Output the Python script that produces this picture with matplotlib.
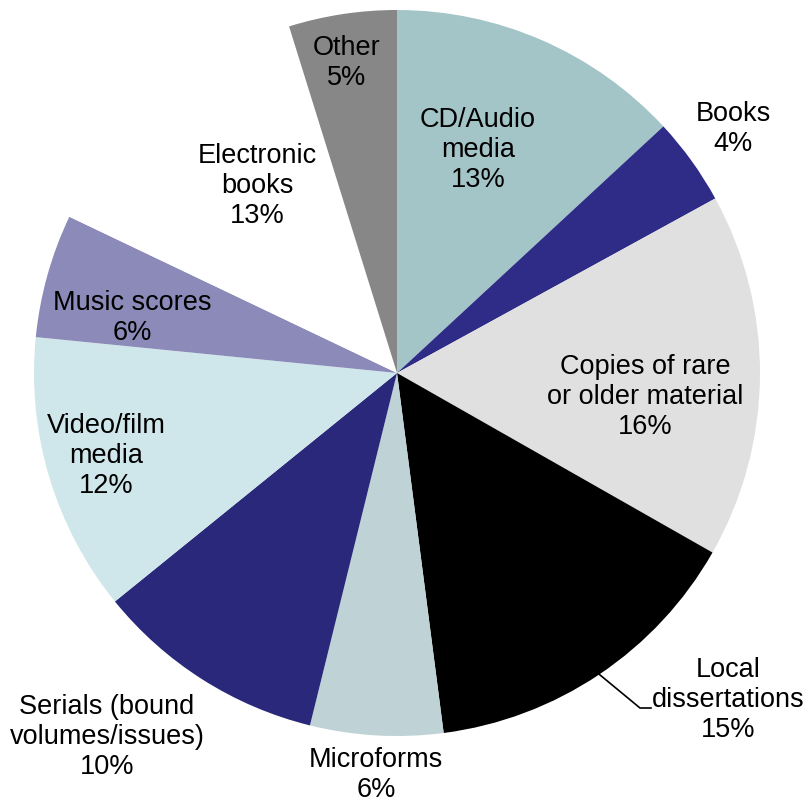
import numpy as np
import matplotlib.pyplot as plt

plt.rcParams["font.family"] = ["Liberation Sans", "DejaVu Sans"]

labels = ["CD/Audio\nmedia", "Books", "Copies of rare\nor older material",
          "Local\ndissertations", "Microforms", "Serials (bound\nvolumes/issues)",
          "Video/film\nmedia", "Music scores", "Electronic\nbooks", "Other"]
values = [13.1, 3.9, 16.2, 14.7, 5.9, 10.3, 12.4, 5.5, 13.1, 4.8]
pct_text = ["13%", "4%", "16%", "15%", "6%", "10%", "12%", "6%", "13%", "5%"]
colors = ["#A4C5C8", "#2E2C87", "#E0E0E0", "#000000", "#BFD2D5",
          "#29287A", "#CFE7EB", "#8B8AB8", "#FFFFFF", "#878787"]

W, H = 806, 802
fig = plt.figure(figsize=(W / 100, H / 100), dpi=100)
ax = fig.add_axes([0, 0, 1, 1])

cx, cy, r = 397, H - 373, 363
wedges, _ = ax.pie(values, colors=colors, startangle=90, counterclock=False,
                   center=(cx, cy), radius=r, wedgeprops=dict(linewidth=0))

# label centres in pixels (from top-left)
label_pos = [(478, 150), (733, 129), (645, 397), (728, 700), (376, 775),
             (107, 737), (106, 456), (132, 318), (257, 186), (347, 63)]
for lab, pct, (x, y) in zip(labels, pct_text, label_pos):
    ax.text(x, H - y, f"{lab}\n{pct}", ha="center", va="center",
            fontsize=19.5, color="black", linespacing=1.2)

# leader line for Local dissertations
w = wedges[3]
mid = np.deg2rad((w.theta1 + w.theta2) / 2)
x0, y0 = cx + r * np.cos(mid), cy + r * np.sin(mid)
ax.plot([x0, 640, 651], [y0, H - 708, H - 708], color="black", lw=1.2)

ax.set_xlim(0, W)
ax.set_ylim(0, H)
ax.set_aspect("equal")
ax.axis("off")
fig.savefig("out.png", dpi=100)
